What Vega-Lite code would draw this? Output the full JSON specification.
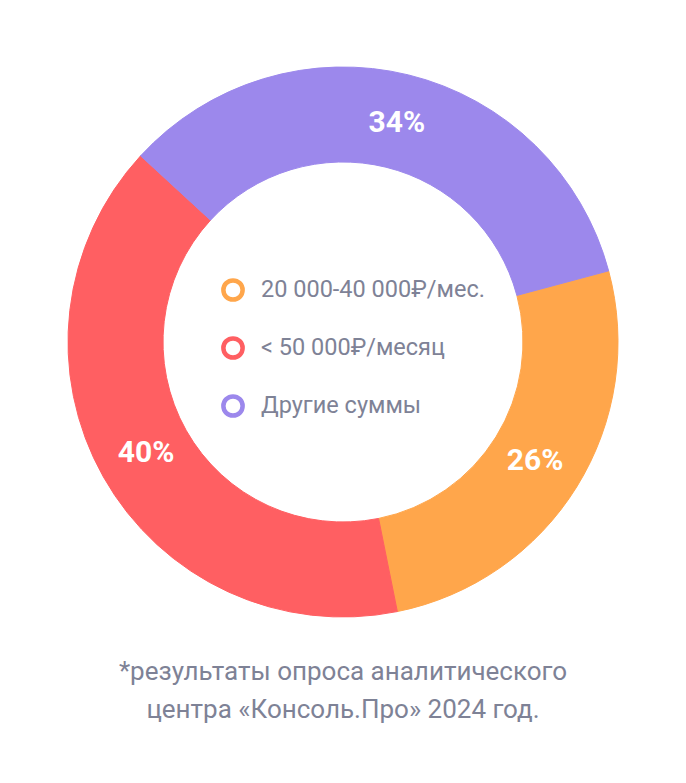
{
  "$schema": "https://vega.github.io/schema/vega-lite/v6.json",
  "width": 686,
  "height": 684,
  "padding": 0,
  "autosize": {"type": "pad"},
  "background": "white",
  "view": {"stroke": null},
  "title": {
    "text": ["*результаты опроса аналитического", "центра «Консоль.Про» 2024 год."],
    "orient": "bottom",
    "anchor": "middle",
    "font": "Roboto",
    "fontSize": 26,
    "fontWeight": "normal",
    "color": "#7E8296",
    "lineHeight": 38,
    "offset": -25
  },
  "data": {
    "values": [
      {"category": "20 000-40 000₽/мес.", "value": 26, "label": "26%", "rank": 1},
      {"category": "< 50 000₽/месяц", "value": 40, "label": "40%", "rank": 2},
      {"category": "Другие суммы", "value": 34, "label": "34%", "rank": 3}
    ]
  },
  "encoding": {
    "theta": {"field": "value", "type": "quantitative", "stack": true, "scale": {"range": [1.309, 7.5922]}},
    "order": {"field": "rank", "type": "quantitative", "sort": "ascending"}
  },
  "layer": [
    {
      "mark": {"type": "arc", "outerRadius": 275, "innerRadius": 180},
      "encoding": {
        "color": {
          "field": "category",
          "type": "nominal",
          "scale": {
            "domain": ["Другие суммы", "20 000-40 000₽/мес.", "< 50 000₽/месяц"],
            "range": ["#9C88EC", "#FFA64B", "#FF5F62"]
          },
          "legend": null
        },
        "stroke": {
          "field": "category",
          "type": "nominal",
          "scale": {
            "domain": ["20 000-40 000₽/мес.", "< 50 000₽/месяц", "Другие суммы"],
            "range": ["#FFA64B", "#FF5F62", "#9C88EC"]
          },
          "legend": {
            "title": null,
            "orient": "none",
            "legendX": 221,
            "legendY": 278,
            "padding": 0,
            "symbolType": "circle",
            "symbolSize": 370,
            "symbolStrokeWidth": 4.5,
            "symbolFillColor": "white",
            "labelFont": "Roboto",
            "labelFontSize": 23.5,
            "labelColor": "#7E8296",
            "labelOffset": 16,
            "rowPadding": 20,
            "labelLimit": 400
          }
        }
      }
    },
    {
      "mark": {"type": "text", "radius": 226, "font": "Roboto", "fontSize": 30, "fontWeight": "bold", "fill": "white"},
      "encoding": {
        "detail": {"field": "category", "type": "nominal"},
        "text": {"field": "label", "type": "nominal"}
      }
    }
  ]
}
